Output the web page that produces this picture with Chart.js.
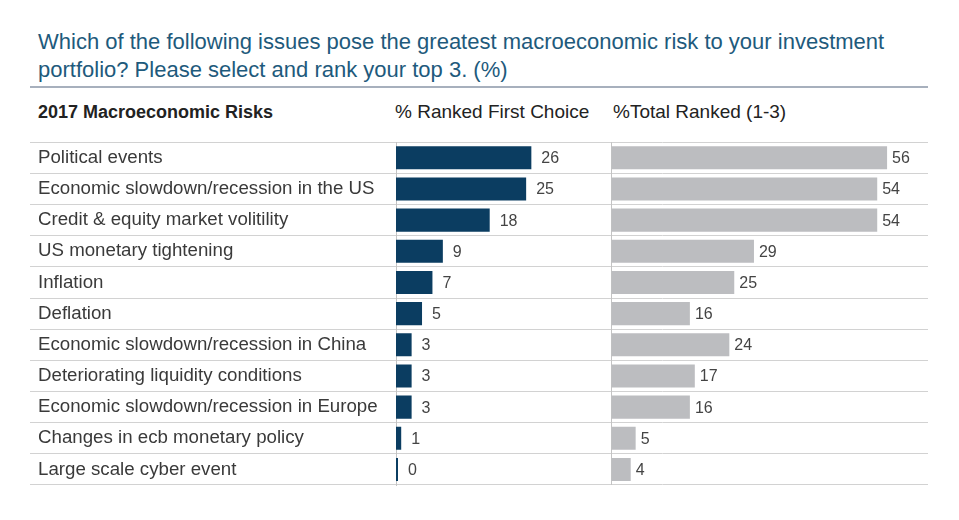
<!DOCTYPE html>
<html>
<head>
<meta charset="utf-8">
<script src="https://cdn.jsdelivr.net/npm/chart.js@4/dist/chart.umd.min.js"></script>
<style>
  body { margin: 0; width: 959px; height: 520px; background: #fff; position: relative; font-family: "Liberation Sans", Arial, sans-serif; overflow: hidden; }
  .title { position: absolute; left: 38px; top: 28px; font-size: 22px; line-height: 28px; color: #1e5a7c; white-space: nowrap; }
  .rule { position: absolute; left: 30px; top: 86px; width: 898px; height: 2px; background: #a7b0bd; }
  .head { position: absolute; top: 101px; font-size: 19px; line-height: 22px; color: #222; white-space: nowrap; }
  .head.bold { font-weight: bold; font-size: 18px; }
  #wrap { position: absolute; left: 30px; top: 128px; width: 898px; height: 375px; }
</style>
</head>
<body>
<div class="title">Which of the following issues pose the greatest macroeconomic risk to your investment<br>portfolio? Please select and rank your top 3. (%)</div>
<div class="rule"></div>
<div class="head bold" style="left:38px">2017 Macroeconomic Risks</div>
<div class="head" style="left:395px">% Ranked First Choice</div>
<div class="head" style="left:613px">%Total Ranked (1-3)</div>
<div id="wrap"><canvas id="risks"></canvas></div>
<script>
const RISKS = [
  'Political events',
  'Economic slowdown/recession in the US',
  'Credit & equity market volitility',
  'US monetary tightening',
  'Inflation',
  'Deflation',
  'Economic slowdown/recession in China',
  'Deteriorating liquidity conditions',
  'Economic slowdown/recession in Europe',
  'Changes in ecb monetary policy',
  'Large scale cyber event'
];
const FIRST_CHOICE = [26, 25, 18, 9, 7, 5, 3, 3, 3, 1, 0];
const TOTAL_RANKED = [56, 54, 54, 29, 25, 16, 24, 17, 16, 5, 4];

// numbers at the end of each bar
const valueLabels = {
  id: 'valueLabels',
  afterDatasetsDraw(chart) {
    const ctx = chart.ctx;
    ctx.save();
    ctx.font = '16px "Liberation Sans", Arial, sans-serif';
    ctx.fillStyle = '#444';
    ctx.textBaseline = 'middle';
    chart.data.datasets.forEach((ds, i) => {
      const gap = i === 0 ? 10 : 5;
      chart.getDatasetMeta(i).data.forEach((bar, j) => {
        ctx.fillText(ds.data[j], bar.x + gap, bar.y + 1);
      });
    });
    ctx.restore();
  }
};

new Chart(document.getElementById('risks'), {
  type: 'bar',
  data: {
    labels: RISKS,
    datasets: [
      { label: '% Ranked First Choice', data: FIRST_CHOICE, xAxisID: 'x', backgroundColor: '#0b3d61',
        grouped: false, barPercentage: 0.74, categoryPercentage: 1, minBarLength: 2 },
      { label: '%Total Ranked (1-3)', data: TOTAL_RANKED, xAxisID: 'x2', backgroundColor: '#bcbdc0',
        grouped: false, barPercentage: 0.74, categoryPercentage: 1 }
    ]
  },
  options: {
    indexAxis: 'y',
    responsive: true,
    maintainAspectRatio: false,
    animation: false,
    layout: { padding: { left: 8, right: 0, top: 10, bottom: 10 } },
    plugins: { legend: { display: false }, tooltip: { enabled: false } },
    scales: {
      y: {
        afterFit: s => { s.width = 358; },
        ticks: { crossAlign: 'far', color: '#3a3a3a', font: { family: '"Liberation Sans", Arial, sans-serif', size: 18.7 } },
        grid: { color: '#d2d2d2', tickLength: 366, drawOnChartArea: true },
        border: { color: '#c4c4c4' }
      },
      x: {
        stack: 'cols', stackWeight: 215, weight: 0, min: 0, max: 41.3,
        ticks: { display: false }, grid: { display: false }, border: { display: false }
      },
      x2: {
        type: 'linear', position: 'bottom', stack: 'cols', stackWeight: 317, weight: 1, min: 0, max: 64.3,
        ticks: { display: false },
        grid: { drawTicks: false, color: c => (c.tick && c.tick.value === 0 ? '#c4c4c4' : 'rgba(0,0,0,0)') },
        border: { display: false }
      }
    }
  },
  plugins: [valueLabels]
});
</script>
</body>
</html>
